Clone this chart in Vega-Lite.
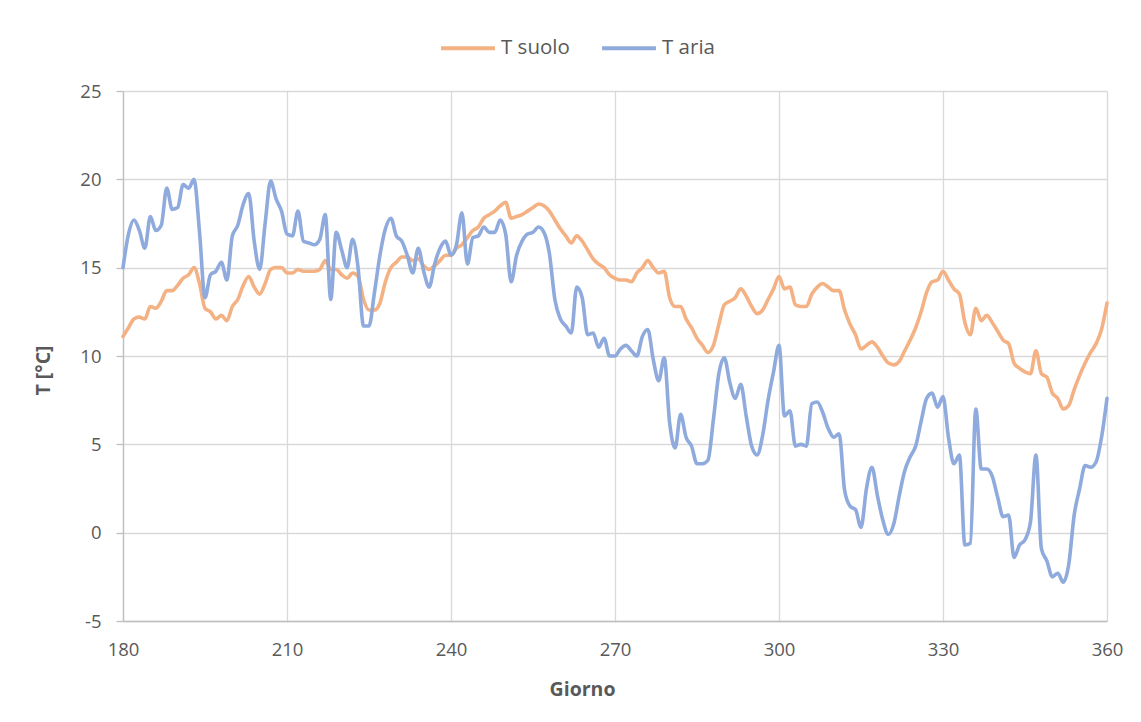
{
  "$schema": "https://vega.github.io/schema/vega-lite/v6.json",
  "width": 984,
  "height": 530,
  "autosize": "none",
  "padding": {"left": 123, "top": 91, "right": 34, "bottom": 101},
  "background": "white",
  "config": {
    "view": {"stroke": null},
    "font": "Open Sans",
    "axis": {
      "labelColor": "#595959",
      "titleColor": "#595959",
      "labelFontSize": 18.5,
      "titleFontSize": 19.5,
      "titleFontWeight": "bold",
      "gridColor": "#D9D9D9",
      "gridWidth": 1.3,
      "domainColor": "#BFBFBF",
      "domainWidth": 1.3,
      "tickColor": "#BFBFBF",
      "tickWidth": 1.3
    },
    "legend": {"labelColor": "#595959", "labelFontSize": 20.5, "labelFont": "Open Sans"}
  },
  "data": {
    "values": [
      {"d":180,"T suolo":11.1,"T aria":15.0},
      {"d":181,"T suolo":11.6,"T aria":16.9},
      {"d":182,"T suolo":12.1,"T aria":17.7},
      {"d":183,"T suolo":12.2,"T aria":17.1},
      {"d":184,"T suolo":12.1,"T aria":16.1},
      {"d":185,"T suolo":12.8,"T aria":17.9},
      {"d":186,"T suolo":12.7,"T aria":17.1},
      {"d":187,"T suolo":13.1,"T aria":17.4},
      {"d":188,"T suolo":13.7,"T aria":19.5},
      {"d":189,"T suolo":13.7,"T aria":18.3},
      {"d":190,"T suolo":14.0,"T aria":18.4},
      {"d":191,"T suolo":14.4,"T aria":19.7},
      {"d":192,"T suolo":14.6,"T aria":19.5},
      {"d":193,"T suolo":15.0,"T aria":20.0},
      {"d":194,"T suolo":14.1,"T aria":17.0},
      {"d":195,"T suolo":12.7,"T aria":13.3},
      {"d":196,"T suolo":12.5,"T aria":14.6},
      {"d":197,"T suolo":12.1,"T aria":14.8},
      {"d":198,"T suolo":12.3,"T aria":15.3},
      {"d":199,"T suolo":12.0,"T aria":14.3},
      {"d":200,"T suolo":12.8,"T aria":16.8},
      {"d":201,"T suolo":13.2,"T aria":17.4},
      {"d":202,"T suolo":14.0,"T aria":18.6},
      {"d":203,"T suolo":14.5,"T aria":19.2},
      {"d":204,"T suolo":13.9,"T aria":16.5},
      {"d":205,"T suolo":13.5,"T aria":14.9},
      {"d":206,"T suolo":14.1,"T aria":17.5},
      {"d":207,"T suolo":14.9,"T aria":19.9},
      {"d":208,"T suolo":15.0,"T aria":18.9},
      {"d":209,"T suolo":15.0,"T aria":18.2},
      {"d":210,"T suolo":14.7,"T aria":16.9},
      {"d":211,"T suolo":14.7,"T aria":16.8},
      {"d":212,"T suolo":14.9,"T aria":18.2},
      {"d":213,"T suolo":14.8,"T aria":16.5},
      {"d":214,"T suolo":14.8,"T aria":16.4},
      {"d":215,"T suolo":14.8,"T aria":16.3},
      {"d":216,"T suolo":14.9,"T aria":16.6},
      {"d":217,"T suolo":15.4,"T aria":18.0},
      {"d":218,"T suolo":14.9,"T aria":13.2},
      {"d":219,"T suolo":14.9,"T aria":17.0},
      {"d":220,"T suolo":14.6,"T aria":16.0},
      {"d":221,"T suolo":14.4,"T aria":15.0},
      {"d":222,"T suolo":14.7,"T aria":16.6},
      {"d":223,"T suolo":14.5,"T aria":15.0},
      {"d":224,"T suolo":13.2,"T aria":11.7},
      {"d":225,"T suolo":12.6,"T aria":11.7},
      {"d":226,"T suolo":12.6,"T aria":13.6},
      {"d":227,"T suolo":13.0,"T aria":15.7},
      {"d":228,"T suolo":14.2,"T aria":17.2},
      {"d":229,"T suolo":15.0,"T aria":17.8},
      {"d":230,"T suolo":15.3,"T aria":16.8},
      {"d":231,"T suolo":15.6,"T aria":16.5},
      {"d":232,"T suolo":15.6,"T aria":15.7},
      {"d":233,"T suolo":15.4,"T aria":14.7},
      {"d":234,"T suolo":15.5,"T aria":16.1},
      {"d":235,"T suolo":15.1,"T aria":14.8},
      {"d":236,"T suolo":14.9,"T aria":13.9},
      {"d":237,"T suolo":15.1,"T aria":15.2},
      {"d":238,"T suolo":15.4,"T aria":16.1},
      {"d":239,"T suolo":15.7,"T aria":16.5},
      {"d":240,"T suolo":15.7,"T aria":15.7},
      {"d":241,"T suolo":16.1,"T aria":16.3},
      {"d":242,"T suolo":16.3,"T aria":18.1},
      {"d":243,"T suolo":16.7,"T aria":15.2},
      {"d":244,"T suolo":17.1,"T aria":16.7},
      {"d":245,"T suolo":17.3,"T aria":16.8},
      {"d":246,"T suolo":17.8,"T aria":17.3},
      {"d":247,"T suolo":18.0,"T aria":17.0},
      {"d":248,"T suolo":18.2,"T aria":17.0},
      {"d":249,"T suolo":18.5,"T aria":17.7},
      {"d":250,"T suolo":18.7,"T aria":16.9},
      {"d":251,"T suolo":17.8,"T aria":14.2},
      {"d":252,"T suolo":17.9,"T aria":15.7},
      {"d":253,"T suolo":18.0,"T aria":16.5},
      {"d":254,"T suolo":18.2,"T aria":16.9},
      {"d":255,"T suolo":18.4,"T aria":17.0},
      {"d":256,"T suolo":18.6,"T aria":17.3},
      {"d":257,"T suolo":18.5,"T aria":17.0},
      {"d":258,"T suolo":18.2,"T aria":15.8},
      {"d":259,"T suolo":17.7,"T aria":13.2},
      {"d":260,"T suolo":17.2,"T aria":12.1},
      {"d":261,"T suolo":16.8,"T aria":11.7},
      {"d":262,"T suolo":16.4,"T aria":11.3},
      {"d":263,"T suolo":16.8,"T aria":13.9},
      {"d":264,"T suolo":16.5,"T aria":13.3},
      {"d":265,"T suolo":16.0,"T aria":11.2},
      {"d":266,"T suolo":15.5,"T aria":11.3},
      {"d":267,"T suolo":15.2,"T aria":10.5},
      {"d":268,"T suolo":15.0,"T aria":11.0},
      {"d":269,"T suolo":14.6,"T aria":10.0},
      {"d":270,"T suolo":14.4,"T aria":10.0},
      {"d":271,"T suolo":14.3,"T aria":10.4},
      {"d":272,"T suolo":14.3,"T aria":10.6},
      {"d":273,"T suolo":14.2,"T aria":10.3},
      {"d":274,"T suolo":14.7,"T aria":10.0},
      {"d":275,"T suolo":15.0,"T aria":11.1},
      {"d":276,"T suolo":15.4,"T aria":11.5},
      {"d":277,"T suolo":15.0,"T aria":9.8},
      {"d":278,"T suolo":14.7,"T aria":8.6},
      {"d":279,"T suolo":14.8,"T aria":9.9},
      {"d":280,"T suolo":13.3,"T aria":6.2},
      {"d":281,"T suolo":12.8,"T aria":4.8},
      {"d":282,"T suolo":12.8,"T aria":6.7},
      {"d":283,"T suolo":12.1,"T aria":5.4},
      {"d":284,"T suolo":11.6,"T aria":4.9},
      {"d":285,"T suolo":11.0,"T aria":3.9},
      {"d":286,"T suolo":10.6,"T aria":3.9},
      {"d":287,"T suolo":10.2,"T aria":4.1},
      {"d":288,"T suolo":10.6,"T aria":6.4},
      {"d":289,"T suolo":11.8,"T aria":9.0},
      {"d":290,"T suolo":12.9,"T aria":9.9},
      {"d":291,"T suolo":13.1,"T aria":8.5},
      {"d":292,"T suolo":13.3,"T aria":7.6},
      {"d":293,"T suolo":13.8,"T aria":8.4},
      {"d":294,"T suolo":13.4,"T aria":6.6},
      {"d":295,"T suolo":12.8,"T aria":4.9},
      {"d":296,"T suolo":12.4,"T aria":4.4},
      {"d":297,"T suolo":12.6,"T aria":5.5},
      {"d":298,"T suolo":13.2,"T aria":7.5},
      {"d":299,"T suolo":13.8,"T aria":9.1},
      {"d":300,"T suolo":14.5,"T aria":10.6},
      {"d":301,"T suolo":13.8,"T aria":6.6},
      {"d":302,"T suolo":13.9,"T aria":6.9},
      {"d":303,"T suolo":12.9,"T aria":4.9},
      {"d":304,"T suolo":12.8,"T aria":5.0},
      {"d":305,"T suolo":12.8,"T aria":4.9},
      {"d":306,"T suolo":13.5,"T aria":7.3},
      {"d":307,"T suolo":13.9,"T aria":7.4},
      {"d":308,"T suolo":14.1,"T aria":6.8},
      {"d":309,"T suolo":13.9,"T aria":5.9},
      {"d":310,"T suolo":13.7,"T aria":5.4},
      {"d":311,"T suolo":13.7,"T aria":5.6},
      {"d":312,"T suolo":12.6,"T aria":2.4},
      {"d":313,"T suolo":11.8,"T aria":1.5},
      {"d":314,"T suolo":11.2,"T aria":1.3},
      {"d":315,"T suolo":10.4,"T aria":0.3},
      {"d":316,"T suolo":10.6,"T aria":2.5},
      {"d":317,"T suolo":10.8,"T aria":3.7},
      {"d":318,"T suolo":10.5,"T aria":2.1},
      {"d":319,"T suolo":10.0,"T aria":0.7},
      {"d":320,"T suolo":9.6,"T aria":-0.1},
      {"d":321,"T suolo":9.5,"T aria":0.5},
      {"d":322,"T suolo":9.7,"T aria":2.1},
      {"d":323,"T suolo":10.3,"T aria":3.5},
      {"d":324,"T suolo":10.9,"T aria":4.3},
      {"d":325,"T suolo":11.6,"T aria":4.9},
      {"d":326,"T suolo":12.5,"T aria":6.3},
      {"d":327,"T suolo":13.6,"T aria":7.6},
      {"d":328,"T suolo":14.2,"T aria":7.9},
      {"d":329,"T suolo":14.3,"T aria":7.1},
      {"d":330,"T suolo":14.8,"T aria":7.7},
      {"d":331,"T suolo":14.3,"T aria":5.4},
      {"d":332,"T suolo":13.8,"T aria":3.9},
      {"d":333,"T suolo":13.5,"T aria":4.4},
      {"d":334,"T suolo":11.9,"T aria":-0.7},
      {"d":335,"T suolo":11.2,"T aria":-0.6},
      {"d":336,"T suolo":12.7,"T aria":7.0},
      {"d":337,"T suolo":12.0,"T aria":3.6},
      {"d":338,"T suolo":12.3,"T aria":3.6},
      {"d":339,"T suolo":11.9,"T aria":3.2},
      {"d":340,"T suolo":11.4,"T aria":2.0},
      {"d":341,"T suolo":10.9,"T aria":0.9},
      {"d":342,"T suolo":10.7,"T aria":1.0},
      {"d":343,"T suolo":9.6,"T aria":-1.4},
      {"d":344,"T suolo":9.3,"T aria":-0.7},
      {"d":345,"T suolo":9.1,"T aria":-0.4},
      {"d":346,"T suolo":9.0,"T aria":0.6},
      {"d":347,"T suolo":10.3,"T aria":4.4},
      {"d":348,"T suolo":9.0,"T aria":-0.9},
      {"d":349,"T suolo":8.8,"T aria":-1.6},
      {"d":350,"T suolo":7.9,"T aria":-2.5},
      {"d":351,"T suolo":7.6,"T aria":-2.3},
      {"d":352,"T suolo":7.0,"T aria":-2.8},
      {"d":353,"T suolo":7.2,"T aria":-1.8},
      {"d":354,"T suolo":8.1,"T aria":1.0},
      {"d":355,"T suolo":8.9,"T aria":2.5},
      {"d":356,"T suolo":9.6,"T aria":3.8},
      {"d":357,"T suolo":10.2,"T aria":3.7},
      {"d":358,"T suolo":10.7,"T aria":4.0},
      {"d":359,"T suolo":11.5,"T aria":5.4},
      {"d":360,"T suolo":13.0,"T aria":7.6}
    ]
  },
  "transform": [{"fold": ["T suolo", "T aria"], "as": ["serie", "T"]}],
  "mark": {"type": "line", "interpolate": "monotone", "strokeWidth": 3.6, "strokeCap": "round", "strokeJoin": "round"},
  "encoding": {
    "x": {
      "field": "d", "type": "quantitative", "title": "Giorno",
      "scale": {"domain": [180, 360], "nice": false, "zero": false},
      "axis": {"values": [180, 210, 240, 270, 300, 330, 360], "ticks": false, "labelPadding": 19, "titlePadding": 22, "titleX": 459, "grid": true, "labelFlush": false}
    },
    "y": {
      "field": "T", "type": "quantitative", "title": "T [°C]",
      "scale": {"domain": [-5, 25], "nice": false, "zero": false},
      "axis": {"values": [-5, 0, 5, 10, 15, 20, 25], "labelExpr": "replace(datum.label, '\u2212', '-')", "tickSize": 7, "labelPadding": 15, "titlePadding": 26, "titleY": 279, "grid": true}
    },
    "color": {
      "field": "serie", "type": "nominal",
      "scale": {"domain": ["T suolo", "T aria"], "range": ["#F4B183", "#8FAADC"]},
      "legend": {"title": null, "orient": "none", "direction": "horizontal", "legendX": 316, "legendY": -72, "symbolType": "stroke", "symbolSize": 2900, "symbolStrokeWidth": 4, "columnPadding": 24, "labelOffset": 4}
    }
  }
}
